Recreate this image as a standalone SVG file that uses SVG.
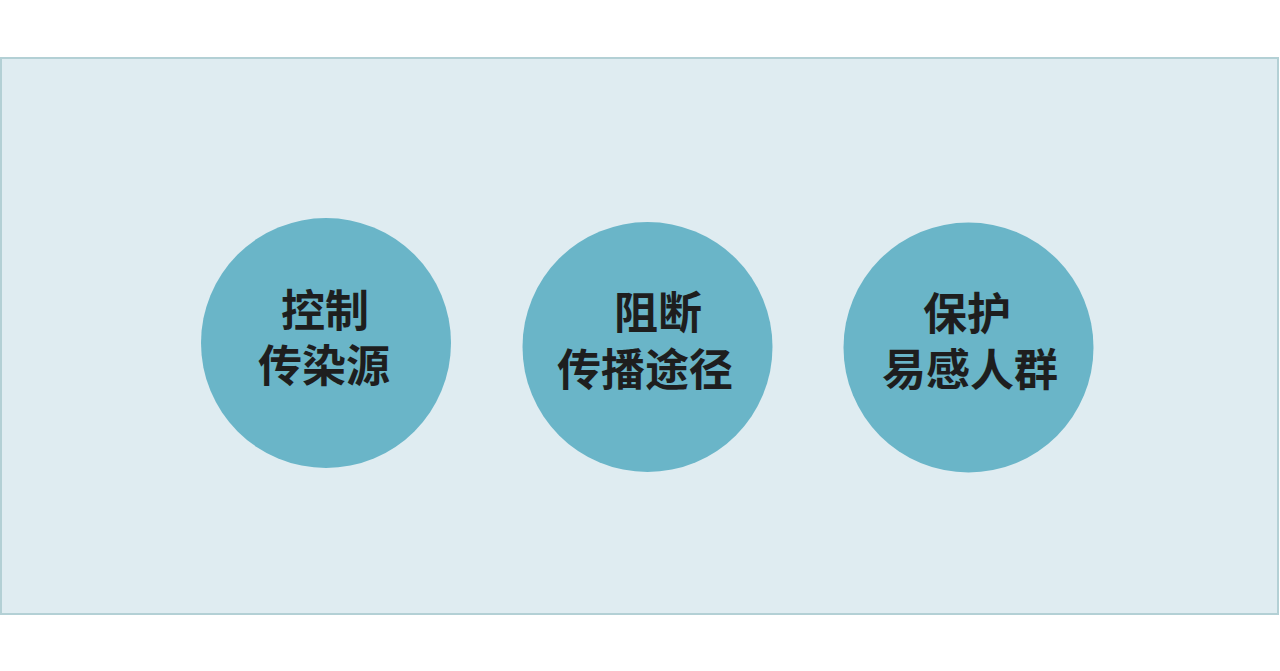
<svg xmlns="http://www.w3.org/2000/svg" width="1280" height="671" viewBox="0 0 1280 671">
  <style>
    .bg { fill: #ffffff; }
    .panel { fill: #dfecf1; stroke: #b3d0d5; stroke-width: 2; }
    .node { fill: #6ab5c8; }
    .label { font-family: "Noto Sans CJK SC", "Noto Sans", sans-serif; font-size: 44px; font-weight: bold; fill: #1e1e1e; text-anchor: middle; }
  </style>
  <rect class="bg" x="0" y="0" width="1280" height="671"/>
  <rect class="panel" x="1" y="58" width="1277" height="556"/>
  <g id="connectors"></g>
  <g id="node-control">
    <circle class="node" cx="326" cy="343" r="125"/>
    <text class="label"><tspan x="325" y="327">控制</tspan><tspan x="324" y="382">传染源</tspan></text>
  </g>
  <g id="node-block">
    <circle class="node" cx="647.5" cy="347" r="125"/>
    <text class="label"><tspan x="658" y="329">阻断</tspan><tspan x="645" y="386">传播途径</tspan></text>
  </g>
  <g id="node-protect">
    <circle class="node" cx="968.5" cy="347.5" r="125"/>
    <text class="label"><tspan x="967" y="330">保护</tspan><tspan x="970" y="386">易感人群</tspan></text>
  </g>
</svg>
